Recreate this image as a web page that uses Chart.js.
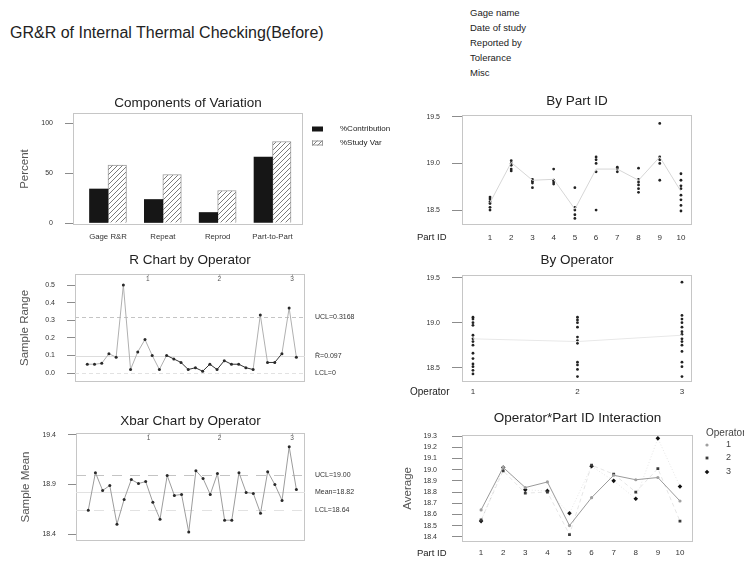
<!DOCTYPE html>
<html>
<head>
<meta charset="utf-8">
<script src="https://cdn.jsdelivr.net/npm/chart.js@4.4.1/dist/chart.umd.min.js"></script>
<style>
html,body{margin:0;padding:0;background:#fff;width:744px;height:561px;overflow:hidden;font-family:"Liberation Sans",Arial,sans-serif;}
.cell{position:absolute;}
#title{position:absolute;left:10px;top:25px;font-size:16px;line-height:16px;color:#222;white-space:nowrap;}
#info{position:absolute;left:470px;top:5px;font-size:9.5px;line-height:15px;color:#222;white-space:nowrap;}
</style>
</head>
<body>
<div id="title">GR&amp;R of Internal Thermal Checking(Before)</div>
<div id="info"></div>
<div class="cell" style="left:0;top:88px;width:400px;height:160px"><canvas id="cA" width="400" height="160"></canvas></div>
<div class="cell" style="left:400px;top:88px;width:344px;height:160px"><canvas id="cB" width="344" height="160"></canvas></div>
<div class="cell" style="left:0;top:248px;width:400px;height:155px"><canvas id="cC" width="400" height="155"></canvas></div>
<div class="cell" style="left:400px;top:248px;width:344px;height:155px"><canvas id="cD" width="344" height="155"></canvas></div>
<div class="cell" style="left:0;top:403px;width:400px;height:158px"><canvas id="cE" width="400" height="158"></canvas></div>
<div class="cell" style="left:400px;top:403px;width:344px;height:158px"><canvas id="cF" width="344" height="158"></canvas></div>
<script>
// ---------------- DATA ----------------
const infoLines = ['Gage name', 'Date of study', 'Reported by', 'Tolerance', 'Misc'];

const componentCategories = ['Gage R&R', 'Repeat', 'Reprod', 'Part-to-Part'];
const pctContribution = [34, 23.5, 10.5, 66];
const pctStudyVar = [58, 48.5, 32.5, 81.5];
const percentTicks = [0, 50, 100];

const partIds = [1, 2, 3, 4, 5, 6, 7, 8, 9, 10];
const operatorIds = [1, 2, 3];

const byPartReadings = [
  [18.64, 18.62, 18.59, 18.57, 18.53, 18.50],
  [19.03, 19.00, 18.98, 18.94, 18.92],
  [18.83, 18.81, 18.79, 18.74],
  [18.94, 18.82, 18.80, 18.78],
  [18.74, 18.53, 18.50, 18.45, 18.41],
  [19.07, 19.04, 19.00, 18.91, 18.50],
  [18.96, 18.94, 18.91],
  [18.95, 18.83, 18.80, 18.77, 18.73, 18.69],
  [19.43, 19.07, 19.04, 19.00, 18.82],
  [18.89, 18.82, 18.76, 18.73, 18.66, 18.61, 18.55, 18.49]
];
const partMeans = [18.58, 19.01, 18.82, 18.83, 18.51, 18.94, 18.94, 18.82, 19.07, 18.70];

const byOperatorReadings = [
  [19.06, 19.04, 19.00, 18.97, 18.86, 18.82, 18.79, 18.75, 18.66, 18.60, 18.54, 18.51, 18.47, 18.43],
  [19.06, 19.03, 19.00, 18.95, 18.84, 18.80, 18.77, 18.56, 18.53, 18.48, 18.40],
  [19.45, 19.08, 19.04, 19.00, 18.95, 18.90, 18.87, 18.82, 18.79, 18.75, 18.68, 18.56, 18.51, 18.40]
];
const operatorMeans = [18.82, 18.79, 18.86];
const measureTicks = [18.5, 19.0, 19.5];

const sampleRanges = [
  0.05, 0.05, 0.055, 0.11, 0.09, 0.50, 0.02, 0.12, 0.19, 0.10,
  0.02, 0.10, 0.08, 0.06, 0.02, 0.03, 0.01, 0.05, 0.02, 0.07,
  0.05, 0.05, 0.03, 0.02, 0.33, 0.06, 0.06, 0.11, 0.37, 0.09
];
const rangeTicks = [0, 0.1, 0.2, 0.3, 0.4, 0.5];
const rLimitValues = [0.3168, 0.097, 0];
const rLimitLabels = ['UCL=0.3168', 'R\u0304=0.097', 'LCL=0'];

const op1Averages = [18.64, 19.02, 18.84, 18.89, 18.50, 18.75, 18.95, 18.91, 18.93, 18.72];
const op2Averages = [18.55, 18.99, 18.79, 18.80, 18.42, 19.04, 18.96, 18.80, 19.01, 18.54];
const op3Averages = [18.54, 19.02, 18.82, 18.81, 18.61, 19.03, 18.90, 18.74, 19.28, 18.85];
const meanTicks = [18.4, 18.9, 19.4];
const xbarLimitValues = [19.00, 18.82, 18.64];
const xbarLimitLabels = ['UCL=19.00', 'Mean=18.82', 'LCL=18.64'];
const averageTicks = [18.4, 18.5, 18.6, 18.7, 18.8, 18.9, 19.0, 19.1, 19.2, 19.3];
const operatorLabelPos = [9.4, 19.3, 29.4];

// ---------------- SETUP ----------------
const FONT = '"Liberation Sans", Arial, sans-serif';
Chart.defaults.font.family = FONT;
Chart.defaults.color = '#333';
Chart.defaults.animation = false;
Chart.defaults.responsive = false;
Chart.defaults.plugins.legend.display = false;
Chart.defaults.plugins.tooltip.enabled = false;

document.getElementById('info').innerHTML = infoLines.map(t => '<div>' + t + '</div>').join('');

function hatchPattern() {
  const c = document.createElement('canvas');
  c.width = 5; c.height = 5;
  const g = c.getContext('2d');
  g.fillStyle = '#fff'; g.fillRect(0, 0, 5, 5);
  g.strokeStyle = '#7a7a7a'; g.lineWidth = 1;
  g.beginPath();
  g.moveTo(0, 5); g.lineTo(5, 0);
  g.moveTo(-1, 1); g.lineTo(1, -1);
  g.moveTo(4, 6); g.lineTo(6, 4);
  g.stroke();
  return g.createPattern(c, 'repeat');
}

function yAxis(o) {
  return {
    type: 'linear', position: 'left', min: o.min, max: o.max,
    afterBuildTicks: s => { s.ticks = o.ticks.map(v => ({ value: v })); },
    afterFit: s => { s.width = o.width; },
    grid: { drawOnChartArea: false, drawTicks: true, tickLength: o.tickLen, color: '#8c8c8c' },
    border: { display: false },
    ticks: { font: { size: 7 }, color: '#333', padding: o.pad, autoSkip: false, callback: o.fmt },
    title: o.title ? { display: true, text: o.title, color: '#555', font: { size: 11.5, lineHeight: 1.2 }, padding: { top: o.titlePad, bottom: 0 } } : { display: false }
  };
}
function xAxis(o) {
  return {
    type: 'linear', position: 'bottom', min: o.min, max: o.max, offset: false, display: o.display !== false,
    afterBuildTicks: s => { s.ticks = o.ticks.map(v => ({ value: v })); },
    afterFit: s => { s.height = o.height; },
    grid: { display: false, drawTicks: false, offset: false },
    border: { display: false },
    ticks: { font: { size: o.size || 8 }, color: '#333', padding: o.pad, autoSkip: false, maxRotation: 0, callback: o.fmt }
  };
}
function titleOpt(text, padTop, padBottom) {
  return { display: true, text: text, fullSize: false, color: '#222', font: { size: 13.5, weight: 'normal', lineHeight: 1.2 }, padding: { top: padTop, bottom: padBottom } };
}

const decorPlugin = {
  id: 'decor',
  beforeDatasetsDraw(chart, args, o) {
    const { ctx, chartArea: a, scales } = chart;
    ctx.save();
    ctx.strokeStyle = o.frameColor || '#c6c6c6';
    ctx.lineWidth = 1;
    ctx.strokeRect(Math.round(a.left) + 0.5, Math.round(a.top) + 0.5, Math.round(a.right - a.left) - 1, Math.round(a.bottom - a.top) - 1);
    (o.lines || []).forEach(l => {
      const y = Math.round(scales.y.getPixelForValue(l.value)) + 0.5;
      ctx.strokeStyle = l.color;
      ctx.setLineDash(l.dash || []);
      ctx.beginPath(); ctx.moveTo(a.left, y); ctx.lineTo(a.right, y); ctx.stroke();
    });
    ctx.setLineDash([]);
    ctx.restore();
  },
  afterDatasetsDraw(chart, args, o) {
    const { ctx, chartArea: a, scales } = chart;
    ctx.save();
    ctx.textBaseline = 'middle';
    ctx.textAlign = 'left';
    (o.limitLabels || []).forEach(l => {
      ctx.font = '7px ' + FONT; ctx.fillStyle = '#333';
      ctx.fillText(l.text, a.right + 10, scales.y.getPixelForValue(l.value));
    });
    (o.groupLabels || []).forEach(g => {
      ctx.font = '6.5px ' + FONT; ctx.fillStyle = '#555'; ctx.textAlign = 'center';
      const x = scales.x.getPixelForValue(g.pos);
      ctx.fillText(g.text, x, a.top + 5);
      ctx.strokeStyle = '#aaa'; ctx.beginPath(); ctx.moveTo(x + 0.5, a.top); ctx.lineTo(x + 0.5, a.top + 2); ctx.stroke();
    });
    ctx.textAlign = 'left';
    if (o.sideLabel) {
      ctx.font = o.sideLabel.size + 'px ' + FONT; ctx.fillStyle = '#222';
      ctx.fillText(o.sideLabel.text, o.sideLabel.x, o.sideLabel.y);
    }
    if (o.barLegend) {
      const L = o.barLegend;
      chart.data.datasets.forEach((ds, i) => {
        const y = L.ys[i];
        ctx.fillStyle = ds.backgroundColor;
        ctx.fillRect(L.x, y - 2.5, 11, 5);
        if (ds.borderWidth) { ctx.strokeStyle = ds.borderColor; ctx.strokeRect(L.x + 0.5, y - 2, 10, 4); }
        ctx.font = '8px ' + FONT; ctx.fillStyle = '#222';
        ctx.fillText(ds.label, L.textX, y);
      });
    }
    if (o.pointLegend) {
      const L = o.pointLegend;
      ctx.font = '10px ' + FONT; ctx.fillStyle = '#444';
      ctx.fillText(L.title, L.titleX, L.titleY);
      chart.data.datasets.forEach((ds, i) => {
        const y = L.ys[i];
        ctx.fillStyle = ds.pointBackgroundColor;
        ctx.strokeStyle = ds.pointBackgroundColor;
        Chart.helpers.drawPoint(ctx, { pointStyle: ds.pointStyle, radius: ds.pointRadius, borderWidth: 0, rotation: 0 }, L.x, y);
        ctx.font = '9px ' + FONT; ctx.fillStyle = '#444';
        ctx.fillText(ds.label, L.textX, y);
      });
    }
    ctx.restore();
  }
};

// ---------------- A: Components of Variation ----------------
const hatch = hatchPattern();
new Chart(document.getElementById('cA'), {
  type: 'bar',
  data: {
    datasets: [
      { label: '%Contribution', data: componentCategories.map((c, i) => ({ x: i + 1, y: pctContribution[i] })), backgroundColor: '#161616', borderWidth: 0 },
      { label: '%Study Var', data: componentCategories.map((c, i) => ({ x: i + 1, y: pctStudyVar[i] })), backgroundColor: hatch, borderColor: '#9a9a9a', borderWidth: 1 }
    ]
  },
  options: {
    layout: { padding: { left: 0, right: 97, top: 6.9, bottom: 3 } },
    barThickness: 18.5,
    scales: {
      x: xAxis({ min: 0.362, max: 4.556, ticks: [1, 2, 3, 4], height: 20, pad: 7.5, size: 7.8, fmt: v => componentCategories[v - 1] }),
      y: yAxis({ min: -2, max: 110, ticks: percentTicks, width: 73, tickLen: 8, pad: 12, fmt: v => String(v), title: 'Percent', titlePad: 18 })
    },
    plugins: {
      title: titleOpt('Components of Variation', 0, 1.9),
      decor: { barLegend: { x: 312, ys: [41, 55], textX: 340 } }
    }
  },
  plugins: [decorPlugin]
});

// ---------------- B: By Part ID ----------------
const partPoints = [];
byPartReadings.forEach((vals, i) => vals.forEach(v => partPoints.push({ x: partIds[i], y: v })));
new Chart(document.getElementById('cB'), {
  type: 'scatter',
  data: {
    datasets: [
      { type: 'line', data: partIds.map((p, i) => ({ x: p, y: partMeans[i] })), borderColor: '#d6d6d6', borderWidth: 1, pointRadius: 0, fill: false },
      { data: partPoints, pointRadius: 1.4, pointBackgroundColor: '#222', pointBorderWidth: 0 }
    ]
  },
  options: {
    layout: { padding: { left: 0, right: 52, top: 5.6, bottom: 3 } },
    scales: {
      x: xAxis({ min: -0.32, max: 10.52, ticks: partIds, height: 20, pad: 8, fmt: v => String(v) }),
      y: yAxis({ min: 18.34, max: 19.52, ticks: measureTicks, width: 62, tickLen: 10, pad: 12, fmt: v => v.toFixed(1) })
    },
    plugins: {
      title: titleOpt('By Part ID', 0, 5.2),
      decor: { sideLabel: { text: 'Part ID', x: 17, y: 149, size: 9.5 } }
    }
  },
  plugins: [decorPlugin]
});

// ---------------- C: R Chart by Operator ----------------
new Chart(document.getElementById('cC'), {
  type: 'line',
  data: {
    datasets: [{
      data: sampleRanges.map((v, i) => ({ x: i + 1, y: v })),
      borderColor: '#aaaaaa', borderWidth: 1, pointRadius: 1.5, pointBackgroundColor: '#2a2a2a', pointBorderWidth: 0, tension: 0,
      segment: { borderColor: c => ((c.p0DataIndex >= 11 && c.p0DataIndex <= 22) || (c.p0DataIndex >= 25 && c.p0DataIndex <= 26)) ? '#333' : '#b0b0b0' }
    }]
  },
  options: {
    layout: { padding: { left: 0, right: 95, top: 3.9, bottom: 21 } },
    scales: {
      x: xAxis({ min: -0.707, max: 31.2, ticks: [], height: 0, pad: 0, display: false }),
      y: yAxis({ min: -0.051, max: 0.5625, ticks: rangeTicks, width: 75, tickLen: 8, pad: 12, fmt: v => v.toFixed(1), title: 'Sample Range', titlePad: 18 })
    },
    plugins: {
      title: titleOpt('R Chart by Operator', 0, 5.9),
      decor: {
        lines: [
          { value: rLimitValues[0], color: '#c4c4c4', dash: [4, 3] },
          { value: rLimitValues[1], color: '#dddddd' },
          { value: rLimitValues[2], color: '#e2e2e2', dash: [4, 3] }
        ],
        limitLabels: rLimitValues.map((v, i) => ({ value: v, text: rLimitLabels[i] })),
        groupLabels: operatorLabelPos.map((p, i) => ({ pos: p, text: String(operatorIds[i]) }))
      }
    }
  },
  plugins: [decorPlugin]
});

// ---------------- D: By Operator ----------------
const opPoints = [];
byOperatorReadings.forEach((vals, i) => vals.forEach(v => opPoints.push({ x: operatorIds[i], y: v })));
new Chart(document.getElementById('cD'), {
  type: 'scatter',
  data: {
    datasets: [
      { type: 'line', data: operatorIds.map((o, i) => ({ x: o, y: operatorMeans[i] })), borderColor: '#e8e8e8', borderWidth: 1, pointRadius: 0, fill: false },
      { data: opPoints, pointRadius: 1.4, pointBackgroundColor: '#222', pointBorderWidth: 0 }
    ]
  },
  options: {
    layout: { padding: { left: 0, right: 52, top: 3.9, bottom: 6 } },
    scales: {
      x: xAxis({ min: 0.895, max: 3.096, ticks: operatorIds, height: 15, pad: 5.2, fmt: v => String(v) }),
      y: yAxis({ min: 18.34, max: 19.53, ticks: measureTicks, width: 62, tickLen: 10, pad: 12, fmt: v => v.toFixed(1) })
    },
    plugins: {
      title: titleOpt('By Operator', 0, 6.9),
      decor: { sideLabel: { text: 'Operator', x: 10, y: 144, size: 10 } }
    }
  },
  plugins: [decorPlugin]
});

// ---------------- E: Xbar Chart by Operator ----------------
const allAverages = [...op1Averages, ...op2Averages, ...op3Averages];
new Chart(document.getElementById('cE'), {
  type: 'line',
  data: {
    datasets: [{
      data: allAverages.map((v, i) => ({ x: i + 1, y: v })),
      borderColor: '#9c9c9c', borderWidth: 1, pointRadius: 1.5, pointBackgroundColor: '#2a2a2a', pointBorderWidth: 0, tension: 0
    }]
  },
  options: {
    layout: { padding: { left: 0, right: 95, top: 9.9, bottom: 20 } },
    scales: {
      x: xAxis({ min: -0.707, max: 31.2, ticks: [], height: 0, pad: 0, display: false }),
      y: yAxis({ min: 18.33, max: 19.42, ticks: meanTicks, width: 76, tickLen: 8, pad: 12, fmt: v => v.toFixed(1), title: 'Sample Mean', titlePad: 19 })
    },
    plugins: {
      title: titleOpt('Xbar Chart by Operator', 0, 3.9),
      decor: {
        lines: [
          { value: xbarLimitValues[0], color: '#c4c4c4', dash: [10, 8] },
          { value: xbarLimitValues[1], color: '#e2e2e2' },
          { value: xbarLimitValues[2], color: '#e2e2e2', dash: [10, 8] }
        ],
        limitLabels: xbarLimitValues.map((v, i) => ({ value: v, text: xbarLimitLabels[i] })),
        groupLabels: operatorLabelPos.map((p, i) => ({ pos: p, text: String(operatorIds[i]) }))
      }
    }
  },
  plugins: [decorPlugin]
});

// ---------------- F: Operator*Part ID Interaction ----------------
const opSeries = [op1Averages, op2Averages, op3Averages];
const opStyles = [
  { line: '#9a9a9a', dash: [], ps: 'circle', r: 1.6, bg: '#a0a0a0' },
  { line: 'rgba(0,0,0,0.10)', dash: [4, 3], ps: 'rect', r: 2, bg: '#3a3a3a' },
  { line: 'rgba(0,0,0,0.10)', dash: [1, 2], ps: 'rectRot', r: 2.3, bg: '#111' }
];
new Chart(document.getElementById('cF'), {
  type: 'line',
  data: {
    datasets: opSeries.map((vals, k) => ({
      label: String(operatorIds[k]),
      data: partIds.map((p, i) => ({ x: p, y: vals[i] })),
      borderColor: opStyles[k].line, borderDash: opStyles[k].dash, borderWidth: 1,
      pointStyle: opStyles[k].ps, pointRadius: opStyles[k].r, pointBackgroundColor: opStyles[k].bg, pointBorderWidth: 0, tension: 0
    }))
  },
  options: {
    layout: { padding: { left: 0, right: 51, top: 6.9, bottom: 2.3 } },
    scales: {
      x: xAxis({ min: 0.136, max: 10.59, ticks: partIds, height: 17, pad: 6.5, fmt: v => String(v) }),
      y: yAxis({ min: 18.356, max: 19.31, ticks: averageTicks, width: 62, tickLen: 10, pad: 15, fmt: v => v.toFixed(1), title: 'Average', titlePad: 1.1 })
    },
    plugins: {
      title: titleOpt('Operator*Part ID Interaction', 0, 8.9),
      decor: {
        sideLabel: { text: 'Part ID', x: 17, y: 150, size: 9.5 },
        pointLegend: { title: 'Operator', titleX: 306, titleY: 30, x: 307, ys: [42, 55, 69], textX: 326 }
      }
    }
  },
  plugins: [decorPlugin]
});
</script>
</body>
</html>
